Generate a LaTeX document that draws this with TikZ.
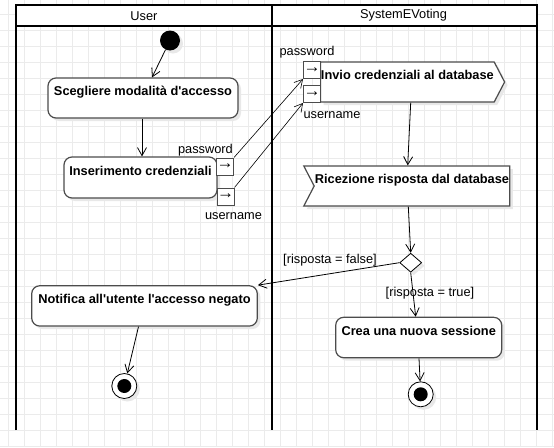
\documentclass[tikz,border=0pt]{standalone}
\usepackage{fontspec}
\setmainfont{Liberation Sans}
\usetikzlibrary{calc,arrows.meta,shapes.geometric,shapes.symbols,shadows}
\def\umlfont{\fontsize{12.8}{15}\selectfont}
\tikzset{
	shade box/.style={drop shadow={shadow xshift=3pt, shadow yshift=-3pt, fill=black!9, opacity=1}},
	actbox/.style={draw=black!70, line width=1.2pt, fill=white, rounded corners=8pt, inner sep=0pt, font=\umlfont\bfseries, text height=17.5pt, text depth=22.5pt, shade box},
	sigbox/.style={shape=signal, draw=black!70, line width=1.2pt, fill=white, inner sep=0pt, signal pointer angle=125, font=\umlfont\bfseries, text height=17pt, text depth=23pt, shade box},
	objpin/.style={draw=black!70, line width=1pt, fill=white, inner sep=0pt, minimum size=17pt, font=\fontsize{17}{17}\selectfont},
	lbl/.style={inner sep=0pt, font=\umlfont},
	flow/.style={-{Straight Barb[length=8pt, width=9pt]}, line width=0.8pt},
}

\begin{document}
\begin{tikzpicture}[x=1pt, y=-1pt]
			%%%%% START %%%%%
			\useasboundingbox[fill=white] (0, 0) rectangle (554, 447);
			
			\foreach \gx in {0,...,34} \draw[line width=1pt, color=black!8] (8.3+16*\gx, 0) -- (8.3+16*\gx, 447);
			\foreach \gy in {0,...,27} \draw[line width=1pt, color=black!8] (0, 14.7+16*\gy) -- (554, 14.7+16*\gy);
			
			\fill[white] (16, 5) rectangle (537, 26);
			\draw[line width=2pt] (16, 430) -- (16, 5) -- (537, 5) -- (537, 430);
			\draw[line width=2pt] (272, 5) -- (272, 430);
			\draw[line width=2pt] (16, 26) -- (537, 26);
			\node[lbl] (userhd) at (144, 15.7) {User};
			\node[lbl] (syshd) at (403.5, 15.5) {SystemEVoting};
			
			\node[circle, fill=black, minimum size=20pt, inner sep=0pt, shade box] (start) at (170, 40.5) {};
			\node[actbox, minimum width=190pt, minimum height=40pt] (act1) at (143, 98) {Scegliere modalità d\textquotesingle accesso};
			\node[actbox, minimum width=153pt, minimum height=41pt] (act2) at (140.5, 177.5) {Inserimento credenziali};
			\node[objpin] (pwL) at (225, 166.5) {→};
			\node[objpin] (unL) at (225.5, 196.5) {→};
			\node[lbl, anchor=east] (pwLtxt) at (233, 150) {password};
			\node[lbl] (unLtxt) at (233.5, 216) {username};
			
			\node[sigbox, signal to=east, signal from=nowhere, minimum width=184pt, minimum height=40pt] (send) at (407.4, 82) {Invio credenziali al database};
			\node[objpin] (pwR) at (312, 70) {→};
			\node[objpin] (unR) at (312, 94) {→};
			\node[lbl] (pwRtxt) at (307, 52) {password};
			\node[lbl] (unRtxt) at (332, 115) {username};
			
			\node[sigbox, signal from=west, signal to=nowhere, minimum width=206pt, minimum height=40pt] (recv) at (412, 186) {Ricezione risposta dal database};
			\node[diamond, draw, line width=0.8pt, fill=white, inner sep=0pt, minimum width=22pt, minimum height=19pt, shade box] (dec) at (410.7, 262.7) {};
			\node[lbl] (falsetxt) at (330, 260) {[risposta = false]};
			\node[lbl] (truetxt) at (430, 292.7) {[risposta = true]};
			
			\node[actbox, minimum width=225.6pt, minimum height=40.3pt] (act3) at (144.5, 305.9) {Notifica all\textquotesingle utente l\textquotesingle accesso negato};
			\node[actbox, minimum width=166pt, minimum height=40.4pt] (act4) at (418.7, 337.5) {Crea una nuova sessione};
			
			\node[circle, draw, line width=0.8pt, fill=white, minimum size=25pt, inner sep=0pt, shade box, path picture={\fill[black] (path picture bounding box.center) circle (7pt);}] (end1) at (124.3, 386) {};
			\node[circle, draw, line width=0.8pt, fill=white, minimum size=25pt, inner sep=0pt, shade box, path picture={\fill[black] (path picture bounding box.center) circle (7pt);}] (end2) at (420.7, 394.3) {};
			
			\draw[flow] (start) -- ([xshift=9pt]act1.north);
			\draw[flow] ([xshift=-1pt]act1.south) -- ([xshift=1.5pt]act2.north);
			\draw[flow, line width=0.6pt] (pwL.north east) -- (pwR.south west);
			\draw[flow, line width=0.6pt] (unL.north east) -- (unR.south west);
			\draw[flow] ([xshift=3.3pt]send.south) -- ([xshift=-4.3pt]recv.north);
			\draw[flow] ([xshift=-3.7pt]recv.south) -- (dec.north);
			\draw[flow] (dec.west) -- (act3.north east);
			\draw[flow] (dec.south) -- ([xshift=-3pt]act4.north);
			\draw[flow] ([xshift=-6pt]act3.south) -- (end1);
			\draw[flow] ([xshift=0.3pt]act4.south) -- (end2);
			
			%%%%% END %%%%%
		\end{tikzpicture}
\end{document}
